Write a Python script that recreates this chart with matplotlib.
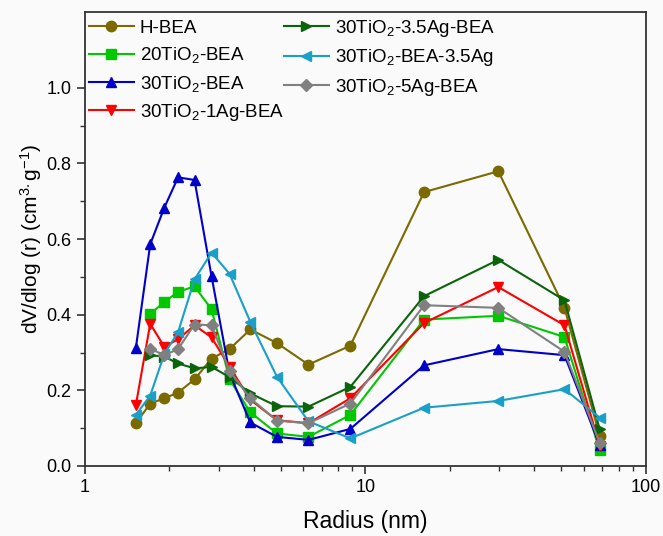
import numpy as np
import matplotlib
matplotlib.use("Agg")
import matplotlib.pyplot as plt
from matplotlib.ticker import FixedLocator, FuncFormatter, LogLocator

plt.rcParams['font.family'] = ['Liberation Sans', 'DejaVu Sans']
plt.rcParams['mathtext.default'] = 'regular'

# pore radius (nm)
radius = [1.52, 1.71, 1.92, 2.15, 2.46, 2.83, 3.28, 3.89, 4.84, 6.27, 8.84, 16.2, 29.8, 51.3, 68.5]
nan = np.nan

h_bea = [0.113, 0.165, 0.179, 0.194, 0.229, 0.284, 0.309, 0.361, 0.325, 0.268, 0.318, 0.724, 0.779, 0.418, 0.080]
ti20_bea = [nan, 0.401, 0.434, 0.460, 0.475, 0.414, 0.229, 0.142, 0.086, 0.077, 0.135, 0.387, 0.397, 0.341, 0.042]
ti30_bea = [0.312, 0.586, 0.683, 0.763, 0.756, 0.501, 0.245, 0.115, 0.077, 0.069, 0.098, 0.266, 0.309, 0.293, 0.055]
ti30_1ag = [0.161, 0.376, 0.315, 0.335, 0.372, 0.340, 0.262, 0.175, 0.121, 0.113, 0.179, 0.378, 0.473, 0.372, 0.054]
ti30_35ag = [nan, 0.293, 0.289, 0.271, 0.258, 0.262, 0.235, 0.192, 0.158, 0.157, 0.209, 0.449, 0.545, 0.438, 0.097]
ti30_bea_35ag = [0.135, 0.186, 0.296, 0.354, 0.493, 0.564, 0.508, 0.381, 0.236, 0.118, 0.073, 0.154, 0.172, 0.203, 0.128]
ti30_5ag = [nan, 0.310, 0.293, 0.309, 0.374, 0.372, 0.251, 0.179, 0.120, 0.113, 0.165, 0.425, 0.418, 0.302, 0.061]

series = [
    ("H-BEA", h_bea, '#7a6a00', 'o'),
    ("20TiO$_2$-BEA", ti20_bea, '#00c800', 's'),
    ("30TiO$_2$-BEA", ti30_bea, '#0000c8', '^'),
    ("30TiO$_2$-1Ag-BEA", ti30_1ag, '#ff0000', 'v'),
    ("30TiO$_2$-3.5Ag-BEA", ti30_35ag, '#0a640a', '>'),
    ("30TiO$_2$-BEA-3.5Ag", ti30_bea_35ag, '#1aa0c8', '<'),
    ("30TiO$_2$-5Ag-BEA", ti30_5ag, '#808080', 'D'),
]

fig = plt.figure(figsize=(6.63, 5.36), dpi=100, facecolor='#fafafa')
ax = fig.add_axes([0.128, 0.1306, 0.846, 0.847])
ax.set_facecolor('#fafafa')

for label, vals, col, mk in series:
    x = np.array(radius)
    y = np.array(vals)
    ok = ~np.isnan(y)
    ms = 6.5 if mk == 'D' else 7.5
    ax.plot(x[ok], y[ok], color=col, marker=mk, markersize=ms, linewidth=1.5, label=label)

ax.set_xscale('log')
ax.set_xlim(1, 100)
ax.set_ylim(0, 1.2)
ax.xaxis.set_major_locator(FixedLocator([1, 10, 100]))
ax.xaxis.set_major_formatter(FuncFormatter(lambda v, p: '%g' % v))
ax.xaxis.set_minor_locator(LogLocator(base=10, subs=np.arange(2, 10)))
ax.xaxis.set_minor_formatter(FuncFormatter(lambda v, p: ''))
ax.yaxis.set_major_locator(FixedLocator([0.0, 0.2, 0.4, 0.6, 0.8, 1.0]))
ax.yaxis.set_major_formatter(FuncFormatter(lambda v, p: '%.1f' % v))
ax.yaxis.set_minor_locator(FixedLocator([0.1, 0.3, 0.5, 0.7, 0.9]))

ax.tick_params(axis='both', which='major', direction='out', length=6, width=1.2, labelsize=13, color='#333333')
ax.tick_params(axis='both', which='minor', direction='out', length=3.5, width=1.0, color='#333333')
for s in ax.spines.values():
    s.set_linewidth(1.3)
    s.set_color('#333333')

ax.set_xlabel('Radius (nm)', fontsize=16.5, labelpad=10)
ax.set_ylabel('dV/dlog (r) (cm$^{3.}$g$^{-1}$)', fontsize=15, labelpad=2)

ax.legend(loc='upper left', bbox_to_anchor=(0.0, 0.995), ncol=2, frameon=False,
          fontsize=13.5, handlelength=2.4, handletextpad=0.32, columnspacing=0.0,
          labelspacing=0.44, borderaxespad=0.0, borderpad=0.2)

fig.savefig('out.png', dpi=100, facecolor=fig.get_facecolor())
